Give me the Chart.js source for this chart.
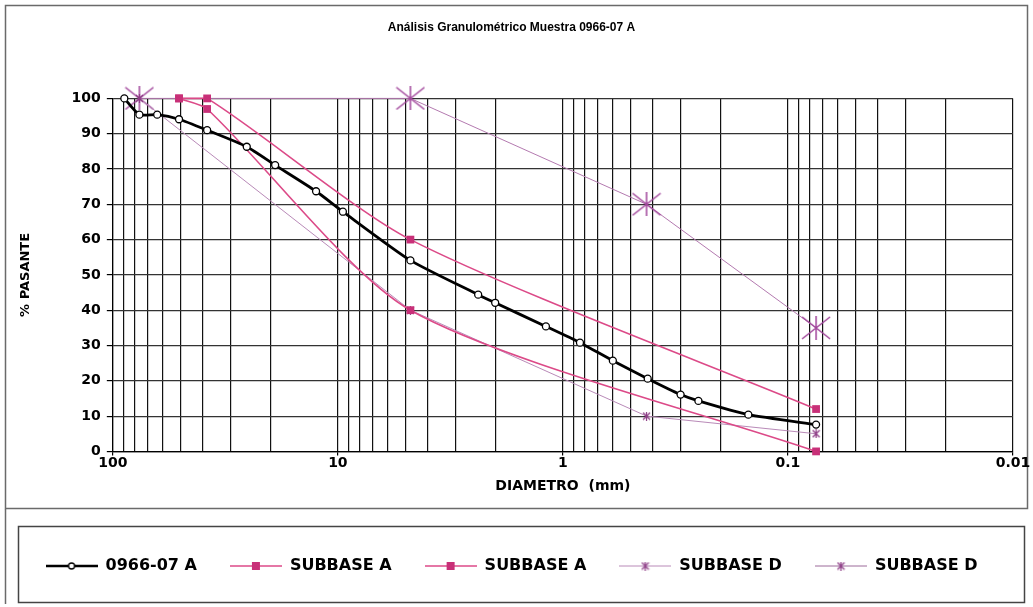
<!DOCTYPE html>
<html>
<head>
<meta charset="utf-8">
<title>Análisis Granulométrico Muestra 0966-07 A</title>
<script src="https://cdn.jsdelivr.net/npm/chart.js@4.4.1/dist/chart.umd.min.js"></script>
<style>
  html, body { margin: 0; padding: 0; background: #fff; }
  #wrap { position: relative; width: 1033px; height: 607px; }
</style>
</head>
<body>
<div id="wrap"><canvas id="granChart" width="1033" height="607"></canvas></div>
<script>
// Sample 0966-07 A (sieve size in mm, % passing)
const sizes0966 = [88.9, 76.2, 63.5, 50.8, 38.1, 25.4, 19.0, 12.5, 9.5, 4.76, 2.38, 2.0, 1.19, 0.84, 0.6, 0.42, 0.3, 0.25, 0.15, 0.075];
const pass0966 = [100, 95.4, 95.4, 94.1, 91, 86.3, 81.1, 73.7, 67.9, 54.1, 44.4, 42.1, 35.4, 30.8, 25.7, 20.6, 16.1, 14.3, 10.4, 7.6];

// Subbase A band
const sizesA = [50.8, 38.1, 4.76, 0.075];
const passAUpper = [100, 100, 60, 12];
const passALower = [100, 97, 40, 0];

// Subbase D band
const sizesD = [76.2, 4.76, 0.425, 0.075];
const passDLower = [100, 40, 10, 5];
const passDUpper = [100, 100, 70, 35];

const seriesNames = ['0966-07 A', 'SUBBASE A', 'SUBBASE A', 'SUBBASE D', 'SUBBASE D'];

// x axis grid (log decades) and labelled ticks
const gridDecades = [0.01, 0.1, 1, 10];
const gridSteps = [1, 2, 3, 4, 5, 6, 7, 8, 9];
const xMajorValues = [100, 10, 1, 0.1, 0.01];
const xTickLabels = ['100', '10', '1', '0.1', '0.01'];

const xGridValues = [];
gridDecades.forEach(dec => gridSteps.forEach(s => xGridValues.push(+(dec * s).toPrecision(3))));
xGridValues.push(100);

const toPoints = (xs, ys) => xs.map((x, i) => ({ x: x, y: ys[i] }));

// asterisk marker (X plus a vertical bar), like the spreadsheet "star" marker
function makeAsterisk(w, h, color, lw) {
  const c = document.createElement('canvas');
  c.width = w; c.height = h;
  const g = c.getContext('2d');
  g.strokeStyle = color;
  g.lineWidth = lw;
  g.beginPath();
  g.moveTo(1, 1); g.lineTo(w - 1, h - 1);
  g.moveTo(w - 1, 1); g.lineTo(1, h - 1);
  g.moveTo(w / 2, 0); g.lineTo(w / 2, h);
  g.stroke();
  return c;
}

// legend symbol: short line with the series marker in the middle
function makeLegendIcon(lineColor, lineWidth, drawMarker) {
  const c = document.createElement('canvas');
  c.width = 52; c.height = 16;
  const g = c.getContext('2d');
  g.strokeStyle = lineColor;
  g.lineWidth = lineWidth;
  g.beginPath();
  g.moveTo(0, 8); g.lineTo(52, 8);
  g.stroke();
  drawMarker(g, 26, 8);
  return c;
}

const smallStar = makeAsterisk(9, 9, '#8c3a84', 1.2);
const bigStar = makeAsterisk(30, 24, '#a0449a', 1.5);

const legendIcons = [
  makeLegendIcon('#000', 2.5, (g, x, y) => {
    g.beginPath(); g.arc(x, y, 3, 0, Math.PI * 2);
    g.fillStyle = '#fff'; g.fill();
    g.lineWidth = 1.3; g.strokeStyle = '#000'; g.stroke();
  }),
  makeLegendIcon('#dc4a88', 1.5, (g, x, y) => { g.fillStyle = '#c83078'; g.fillRect(x - 4, y - 4, 8, 8); }),
  makeLegendIcon('#dc4a88', 1.5, (g, x, y) => { g.fillStyle = '#c83078'; g.fillRect(x - 4, y - 4, 8, 8); }),
  makeLegendIcon('#b98ab8', 1, (g, x, y) => { g.drawImage(smallStar, x - 4.5, y - 4.5); }),
  makeLegendIcon('#9c6a9a', 1, (g, x, y) => { g.drawImage(smallStar, x - 4.5, y - 4.5); })
];

// page frames around the plot and the legend
const framePlugin = {
  id: 'frames',
  beforeDraw(chart) {
    const ctx = chart.ctx;
    ctx.save();
    ctx.fillStyle = '#fff';
    ctx.fillRect(0, 0, chart.width, chart.height);
    ctx.strokeStyle = '#6a6a6a';
    ctx.lineWidth = 1.5;
    ctx.strokeRect(5.5, 5.5, 1022, 503);
    ctx.beginPath();
    ctx.moveTo(5.5, 509); ctx.lineTo(5.5, 604);
    ctx.stroke();
    ctx.strokeStyle = '#444';
    ctx.strokeRect(18.5, 526.5, 1006, 76);
    ctx.restore();
  }
};

const ctx = document.getElementById('granChart').getContext('2d');
new Chart(ctx, {
  type: 'line',
  data: {
    datasets: [
      {
        label: seriesNames[0],
        data: toPoints(sizes0966, pass0966),
        borderColor: '#000',
        borderWidth: 2.8,
        tension: 0.2,
        pointStyle: 'circle',
        pointRadius: 3.5,
        pointBackgroundColor: '#fff',
        pointBorderColor: '#000',
        pointBorderWidth: 1.3,
        clip: false,
        order: 0
      },
      {
        label: seriesNames[1],
        data: toPoints(sizesA, passAUpper),
        borderColor: '#dc4a88',
        borderWidth: 1.6,
        tension: 0.25,
        pointStyle: 'rect',
        pointRadius: 5.5,
        pointBackgroundColor: '#c83078',
        pointBorderColor: '#c83078',
        pointBorderWidth: 0,
        clip: false,
        order: 1
      },
      {
        label: seriesNames[2],
        data: toPoints(sizesA, passALower),
        borderColor: '#dc4a88',
        borderWidth: 1.6,
        tension: 0.25,
        pointStyle: 'rect',
        pointRadius: 5.5,
        pointBackgroundColor: '#c83078',
        pointBorderColor: '#c83078',
        pointBorderWidth: 0,
        clip: false,
        order: 2
      },
      {
        label: seriesNames[3],
        data: toPoints(sizesD, passDLower),
        borderColor: '#b98ab8',
        borderWidth: 1,
        tension: 0,
        pointStyle: smallStar,
        clip: false,
        order: 3
      },
      {
        label: seriesNames[4],
        data: toPoints(sizesD, passDUpper),
        borderColor: '#b47ab0',
        borderWidth: 1,
        tension: 0,
        pointStyle: bigStar,
        clip: false,
        order: 4
      }
    ]
  },
  options: {
    responsive: false,
    animation: false,
    events: [],
    layout: { padding: { top: 10, left: 10, right: 20, bottom: 23 } },
    plugins: {
      title: {
        display: true,
        text: 'Análisis Granulométrico Muestra 0966-07 A',
        color: '#000',
        font: { family: 'Liberation Sans', size: 12, weight: 'bold' },
        padding: { top: 10, bottom: 64 }
      },
      legend: {
        position: 'bottom',
        labels: {
          color: '#000',
          font: { family: 'DejaVu Sans', size: 16, weight: 'bold' },
          usePointStyle: true,
          pointStyleWidth: 52,
          padding: 33,
          generateLabels(chart) {
            const items = Chart.defaults.plugins.legend.labels.generateLabels(chart);
            return items.map((item, i) => Object.assign(item, { pointStyle: legendIcons[i] }));
          }
        }
      },
      tooltip: { enabled: false }
    },
    scales: {
      x: {
        type: 'logarithmic',
        reverse: true,
        min: 0.01,
        max: 100,
        afterBuildTicks(scale) {
          scale.ticks = xGridValues.map(v => ({ value: v, major: xMajorValues.includes(v) }));
        },
        ticks: {
          autoSkip: false,
          maxRotation: 0,
          padding: 0,
          color: '#000',
          font: { family: 'DejaVu Sans', size: 14, weight: 'bold' },
          callback(value) {
            const i = xMajorValues.findIndex(m => Math.abs(m - value) < m * 1e-6);
            return i >= 0 ? xTickLabels[i] : '';
          }
        },
        grid: {
          color: '#111',
          lineWidth: 1.2,
          tickLength: 4,
          tickColor: c => (c.tick && c.tick.major) ? '#000' : 'rgba(0,0,0,0)'
        },
        border: { color: '#000', width: 1.2 },
        title: {
          display: true,
          text: 'DIAMETRO  (mm)',
          color: '#000',
          font: { family: 'DejaVu Sans', size: 14, weight: 'bold' },
          padding: { top: 6, bottom: 30 }
        }
      },
      y: {
        min: 0,
        max: 100,
        ticks: {
          stepSize: 10,
          padding: 6,
          color: '#000',
          font: { family: 'DejaVu Sans', size: 14, weight: 'bold' }
        },
        grid: {
          color: '#333',
          lineWidth: 1.2,
          tickLength: 6,
          tickColor: '#000'
        },
        border: { color: '#000', width: 1.2 },
        title: {
          display: true,
          text: '% PASANTE',
          color: '#000',
          font: { family: 'DejaVu Sans', size: 13, weight: 'bold' },
          padding: { top: 8, bottom: 32 }
        }
      }
    }
  },
  plugins: [framePlugin]
});
</script>
</body>
</html>
